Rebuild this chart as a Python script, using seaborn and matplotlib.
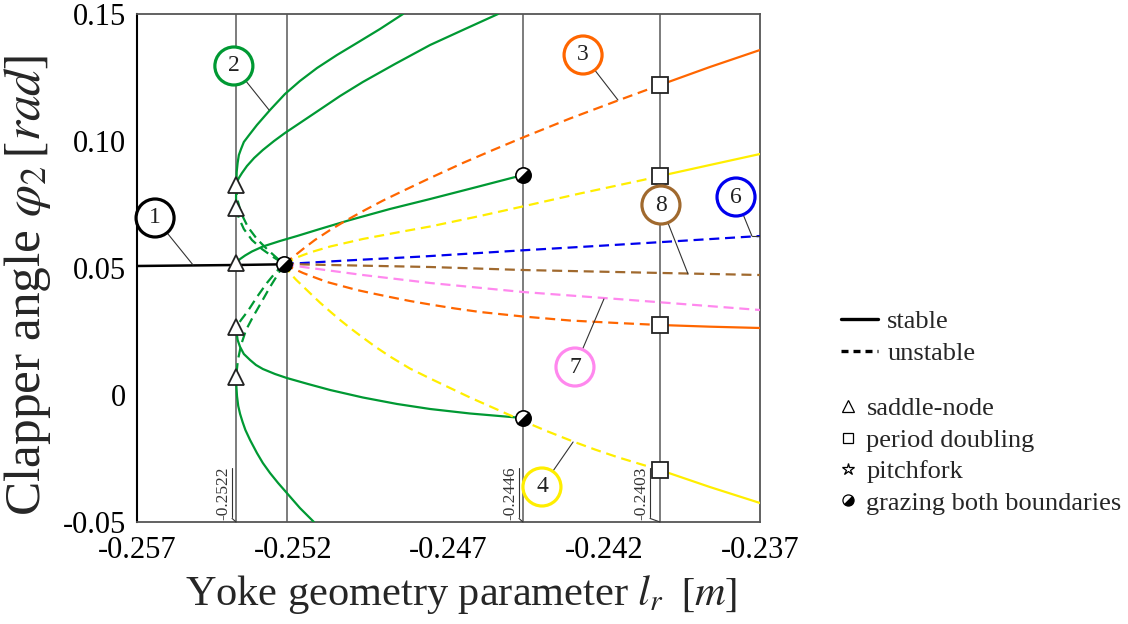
import numpy as np
import pandas as pd
import matplotlib
matplotlib.use("Agg")
import matplotlib.pyplot as plt
import seaborn as sns
from matplotlib.lines import Line2D
from matplotlib.markers import MarkerStyle
from matplotlib.transforms import Affine2D, offset_copy

# ---------------- data ----------------
x_black = [-0.257, -0.25382, -0.25228]
y_black = [0.05079, 0.05118, 0.05146]

# green (branch 2)
x_g1 = [-0.25382, -0.25382, -0.25381, -0.25380, -0.25377, -0.25373, -0.25366, -0.25357, -0.25340,
        -0.25315, -0.25273, -0.25225, -0.25177, -0.25122, -0.25058, -0.24994, -0.24920, -0.24846]
y_g1 = [0.07362, 0.07874, 0.08268, 0.08780, 0.09134, 0.09449, 0.09685, 0.09961, 0.10236,
        0.10630, 0.11220, 0.11850, 0.12362, 0.12874, 0.13386, 0.13858, 0.14409, 0.15]
x_g2 = [-0.25382, -0.25379, -0.25373, -0.25363, -0.25347, -0.25324, -0.25296, -0.25260, -0.25225,
        -0.25177, -0.25122, -0.25048, -0.24975, -0.24872, -0.24759, -0.24647, -0.24541]
y_g2 = [0.08268, 0.08386, 0.08543, 0.08740, 0.09016, 0.09331, 0.09646, 0.10000, 0.10315,
        0.10709, 0.11161, 0.11772, 0.12323, 0.13031, 0.13780, 0.14409, 0.15]
x_g3 = [-0.25382, -0.25376, -0.25369, -0.25353, -0.25331, -0.25296, -0.25241, -0.25186, -0.25113,
        -0.25016, -0.24888, -0.24759, -0.24609, -0.24461]
y_g3 = [0.05197, 0.05276, 0.05354, 0.05492, 0.05650, 0.05846, 0.06063, 0.06260, 0.06535,
        0.06890, 0.07323, 0.07716, 0.08189, 0.08661]
x_g4 = [-0.25382, -0.25380, -0.25377, -0.25369, -0.25357, -0.25337, -0.25318, -0.25296, -0.25257,
        -0.25219, -0.25151, -0.25080, -0.24975, -0.24865, -0.24759, -0.24631, -0.24461]
y_g4 = [0.02677, 0.02441, 0.02165, 0.01890, 0.01614, 0.01378, 0.01181, 0.01024, 0.00827,
        0.00669, 0.00433, 0.00197, -0.00098, -0.00354, -0.00551, -0.00728, -0.00906]
x_g5 = [-0.25382, -0.25381, -0.25379, -0.25375, -0.25369, -0.25361, -0.25352, -0.25337, -0.25315,
        -0.25296, -0.25273, -0.25247, -0.25219, -0.25177, -0.25132]
y_g5 = [0.00709, 0.00354, -0.00040, -0.00433, -0.00748, -0.01063, -0.01378, -0.01772, -0.02283,
        -0.02677, -0.03071, -0.03465, -0.03858, -0.04449, -0.05]
x_d1 = [-0.25382, -0.25373, -0.25357, -0.25331, -0.25299, -0.25263, -0.25228]
y_d1 = [0.07362, 0.06969, 0.06535, 0.06102, 0.05748, 0.05433, 0.05157]
x_d2 = [-0.25382, -0.25379, -0.25366, -0.25344, -0.25315, -0.25283, -0.25251, -0.25228]
y_d2 = [0.08268, 0.07756, 0.07165, 0.06614, 0.06142, 0.05748, 0.05394, 0.05157]
x_d3 = [-0.25228, -0.25254, -0.25283, -0.25315, -0.25344, -0.25366, -0.25382]
y_d3 = [0.05157, 0.04843, 0.04410, 0.03858, 0.03307, 0.02953, 0.02677]
x_d4 = [-0.25228, -0.25247, -0.25273, -0.25302, -0.25328, -0.25350, -0.25366, -0.25376, -0.25382]
y_d4 = [0.05157, 0.04764, 0.04252, 0.03622, 0.03071, 0.02559, 0.01969, 0.01378, 0.00709]

# orange (branch 3)
x_o_up = [-0.25228, -0.25199, -0.25167, -0.25129, -0.25080, -0.25026, -0.24968, -0.24910, -0.24840,
          -0.24759, -0.24654, -0.24557, -0.24461, -0.24310, -0.24156, -0.24021]
y_o_up = [0.05157, 0.05433, 0.05748, 0.06102, 0.06496, 0.06890, 0.07283, 0.07657, 0.08071,
          0.08543, 0.09134, 0.09646, 0.10138, 0.10886, 0.11595, 0.12205]
x_o_up_s = [-0.24021, -0.23861, -0.23700]
y_o_up_s = [0.12205, 0.12913, 0.13583]
x_o_lo = [-0.25228, -0.25202, -0.25167, -0.25129, -0.25090, -0.25042, -0.24994, -0.24942, -0.24888,
          -0.24824, -0.24759, -0.24679, -0.24599, -0.24461, -0.24310, -0.24159, -0.24021]
y_o_lo = [0.05157, 0.05000, 0.04803, 0.04626, 0.04449, 0.04291, 0.04134, 0.03996, 0.03858,
          0.03701, 0.03563, 0.03406, 0.03268, 0.03091, 0.02933, 0.02835, 0.02756]
x_o_lo_s = [-0.24021, -0.23861, -0.23700]
y_o_lo_s = [0.02756, 0.02690, 0.02638]

# yellow (branch 4)
x_y_up = [-0.25228, -0.25209, -0.25183, -0.25145, -0.25080, -0.24975, -0.24865, -0.24759, -0.24599,
          -0.24448, -0.24278, -0.24076, -0.24021]
y_y_up = [0.05157, 0.05276, 0.05433, 0.05610, 0.05846, 0.06142, 0.06398, 0.06634, 0.07047,
          0.07461, 0.07933, 0.08465, 0.08622]
x_y_up_s = [-0.24021, -0.23861, -0.23700]
y_y_up_s = [0.08622, 0.09055, 0.09488]
x_y_lo = [-0.25228, -0.25219, -0.25206, -0.25190, -0.25170, -0.25145, -0.25113, -0.25080, -0.25048,
          -0.25016, -0.24984, -0.24936, -0.24888, -0.24824, -0.24759, -0.24695, -0.24631, -0.24544,
          -0.24461, -0.24381, -0.24300, -0.24230, -0.24159, -0.24085, -0.24021]
y_y_lo = [0.05157, 0.04980, 0.04764, 0.04547, 0.04311, 0.04016, 0.03642, 0.03287, 0.02953,
          0.02638, 0.02343, 0.01910, 0.01516, 0.01043, 0.00650, 0.00276, -0.00098, -0.00571,
          -0.01024, -0.01437, -0.01831, -0.02146, -0.02441, -0.02717, -0.02953]
x_y_lo_s = [-0.24021, -0.23861, -0.23700]
y_y_lo_s = [-0.02953, -0.03622, -0.04252]

# blue (6), brown (8), pink (7)
x_blue = [-0.25228, -0.25167, -0.25016, -0.24782, -0.24461, -0.24214, -0.24012, -0.23700]
y_blue = [0.05157, 0.05197, 0.05303, 0.05453, 0.05697, 0.05874, 0.06024, 0.06260]
x_brown = [-0.25228, -0.25080, -0.24759, -0.24461, -0.24012, -0.23700]
y_brown = [0.05157, 0.05118, 0.05039, 0.04921, 0.04803, 0.04724]
x_pink = [-0.25228, -0.25167, -0.24975, -0.24759, -0.24461, -0.24159, -0.24012, -0.23700]
y_pink = [0.05157, 0.05039, 0.04724, 0.04410, 0.04055, 0.03780, 0.03642, 0.03346]

# bifurcation points
x_saddle = [-0.25382] * 5
y_saddle = [0.05197, 0.07362, 0.08268, 0.02677, 0.00709]
x_pd = [-0.24021] * 4
y_pd = [0.12205, 0.08622, 0.02756, -0.02953]
x_graze = [-0.24461, -0.24461, -0.25228]
y_graze = [0.08661, -0.00906, 0.05157]

# vertical reference lines and their labels
vlines = [-0.25382, -0.25219, -0.24461, -0.24021]
vlabels = ["-0.2522", None, "-0.2446", "-0.2403"]

# branch numbers: label, colour, circle centre, leader tip
branch_ids = ["1", "2", "3", "4", "6", "7", "8"]
branch_cols = ["black", "#009933", "#ff6600", "#ffee00", "#0000ee", "#ff88ee", "#a0692e"]
branch_cx = [-0.25642, -0.25389, -0.24268, -0.24400, -0.23777, -0.24294, -0.24018]
branch_cy = [0.06969, 0.12953, 0.13386, -0.03622, 0.07795, 0.01102, 0.07480]
branch_tx = [-0.25520, -0.25276, -0.24156, -0.24300, -0.23726, -0.24201, -0.23931]
branch_ty = [0.05118, 0.11220, 0.11614, -0.01850, 0.06260, 0.03780, 0.04764]

xticks = [-0.257, -0.252, -0.247, -0.242, -0.237]
xticklabels = ["-0.257", "-0.252", "-0.247", "-0.242", "-0.237"]
yticks = [-0.05, 0.0, 0.05, 0.10, 0.15]
yticklabels = ["-0.05", "0", "0.05", "0.10", "0.15"]

GREEN, ORANGE, YELLOW = "#009933", "#ff6600", "#ffee00"
BLUE, BROWN, PINK = "#0000ee", "#a0692e", "#ff88ee"

# ---------------- style ----------------
sns.set_theme(style="white")
plt.rcParams["font.family"] = ["Liberation Serif", "DejaVu Serif"]
plt.rcParams["mathtext.fontset"] = "stix"
plt.rcParams["axes.unicode_minus"] = False

fig = plt.figure(figsize=(11.28, 6.24), dpi=100)
ax = fig.add_axes([137 / 1128, 1 - 522 / 624, 623 / 1128, 508 / 624])

DASH = (4.5, 2.6)


def curve(x, y, color, dashed=False, lw=1.6):
    df = pd.DataFrame({"x": x, "y": y})
    kw = dict(dashes=DASH) if dashed else {}
    sns.lineplot(data=df, x="x", y="y", color=color, lw=lw, sort=False,
                 estimator=None, ax=ax, zorder=3, **kw)


for v in vlines:
    ax.axvline(v, color="#666666", lw=1.2, zorder=1)

curve(x_black, y_black, "black", lw=1.8)
for xx, yy in [(x_g1, y_g1), (x_g2, y_g2), (x_g3, y_g3), (x_g4, y_g4), (x_g5, y_g5)]:
    curve(xx, yy, GREEN)
for xx, yy in [(x_d1, y_d1), (x_d2, y_d2), (x_d3, y_d3), (x_d4, y_d4)]:
    curve(xx, yy, GREEN, dashed=True)
curve(x_o_up, y_o_up, ORANGE, dashed=True)
curve(x_o_up_s, y_o_up_s, ORANGE)
curve(x_o_lo, y_o_lo, ORANGE, dashed=True)
curve(x_o_lo_s, y_o_lo_s, ORANGE)
curve(x_y_up, y_y_up, YELLOW, dashed=True)
curve(x_y_up_s, y_y_up_s, YELLOW)
curve(x_y_lo, y_y_lo, YELLOW, dashed=True)
curve(x_y_lo_s, y_y_lo_s, YELLOW)
curve(x_blue, y_blue, BLUE, dashed=True)
curve(x_brown, y_brown, BROWN, dashed=True)
curve(x_pink, y_pink, PINK, dashed=True)

# markers
ax.plot(x_saddle, y_saddle, ls="none", marker="^", ms=12, mfc="white", mec="#222222", mew=1.3, zorder=5)
ax.plot(x_pd, y_pd, ls="none", marker="s", ms=11, mfc="white", mec="#222222", mew=1.3, zorder=5)
graze = MarkerStyle("o", fillstyle="bottom", transform=Affine2D().rotate_deg(45))
ax.plot(x_graze, y_graze, ls="none", marker=graze, ms=11, mfc="black", mfcalt="white",
        mec="black", mew=1.2, zorder=6)

# vertical line labels with leaders
for v, lab in zip(vlines, vlabels):
    if lab is None:
        continue
    dx = -10 if lab == "-0.2403" else -4
    tr = offset_copy(ax.transData, fig=fig, x=dx * 0.72, y=0, units="points")
    ax.plot([v, v], [-0.02874, -0.04803], color="#333333", lw=0.8, transform=tr, zorder=4)
    ax.annotate("", xy=(v, -0.05), xytext=(dx, 3.6), textcoords="offset pixels",
                arrowprops=dict(arrowstyle="-", color="#333333", lw=0.8, shrinkA=0, shrinkB=0))
    tr2 = offset_copy(ax.transData, fig=fig, x=(dx - 1) * 0.72, y=2 * 0.72, units="points")
    ax.text(v, -0.05, lab, rotation=90, ha="right", va="bottom", fontsize=12.5,
            color="#333333", transform=tr2, zorder=4)

# branch number circles
for lab, col, cx, cy, tx, ty in zip(branch_ids, branch_cols, branch_cx, branch_cy, branch_tx, branch_ty):
    ax.annotate(lab, xy=(tx, ty), xytext=(cx, cy), ha="center", va="center",
                fontsize=17, color="#222222", zorder=7,
                bbox=dict(boxstyle="circle,pad=0.36", fc="white", ec=col, lw=2.3),
                arrowprops=dict(arrowstyle="-", color="#333333", lw=0.8, shrinkA=0, shrinkB=0))
    if lab == "6":
        ax.plot([tx, -0.237], [ty, ty], color="#333333", lw=0.8, zorder=4)

# axes
ax.set_xlim(-0.257, -0.237)
ax.set_ylim(-0.05, 0.15)
ax.set_xticks(xticks)
ax.set_xticklabels(xticklabels)
ax.set_yticks(yticks)
ax.set_yticklabels(yticklabels)
ax.tick_params(direction="inout", length=14, width=1.3, color="#333333",
               labelsize=22, labelcolor="black", pad=1)
ax.tick_params(axis="x", pad=3)
for s in ["top", "right", "bottom"]:
    ax.spines[s].set_color("#555555")
    ax.spines[s].set_linewidth(1.3)
ax.spines["left"].set_color("black")
ax.spines["left"].set_linewidth(1.5)
ax.set_xlabel(r"Yoke geometry parameter $l_r\;\;[m]$", fontsize=30.5)
ax.set_ylabel(r"Clapper angle $\varphi_2\,[rad]$", fontsize=37)
ax.xaxis.set_label_coords(0.52, -0.1)
ax.yaxis.set_label_coords(-0.135, 0.465)

# legends
h1 = [Line2D([], [], color="black", lw=2.4),
      Line2D([], [], color="black", lw=2.4, dashes=(2.1, 1.5))]
leg1 = fig.legend(h1, ["stable", "unstable"], loc="upper left",
                  bbox_to_anchor=(841 / 1128, 1 - 310 / 624), frameon=False,
                  fontsize=19, handlelength=1.4, handletextpad=0.35, labelspacing=0.3,
                  borderpad=0, borderaxespad=0)
star = Line2D([], [], ls="none", marker="*", ms=9, mfc="white", mec="black", mew=0.9)
h2 = [Line2D([], [], ls="none", marker="^", ms=8, mfc="white", mec="black", mew=0.9),
      Line2D([], [], ls="none", marker="s", ms=7.5, mfc="white", mec="black", mew=0.9),
      star,
      Line2D([], [], ls="none", marker=graze, ms=8, mfc="black", mfcalt="white", mec="black", mew=0.9)]
leg2 = fig.legend(h2, ["saddle-node", "period doubling", "pitchfork", "grazing both boundaries"],
                  loc="upper left", bbox_to_anchor=(840 / 1128, 1 - 397 / 624), frameon=False,
                  fontsize=19, handlelength=0.6, handletextpad=0.4, labelspacing=0.3,
                  borderpad=0, borderaxespad=0)

fig.savefig("out.png", dpi=100)
